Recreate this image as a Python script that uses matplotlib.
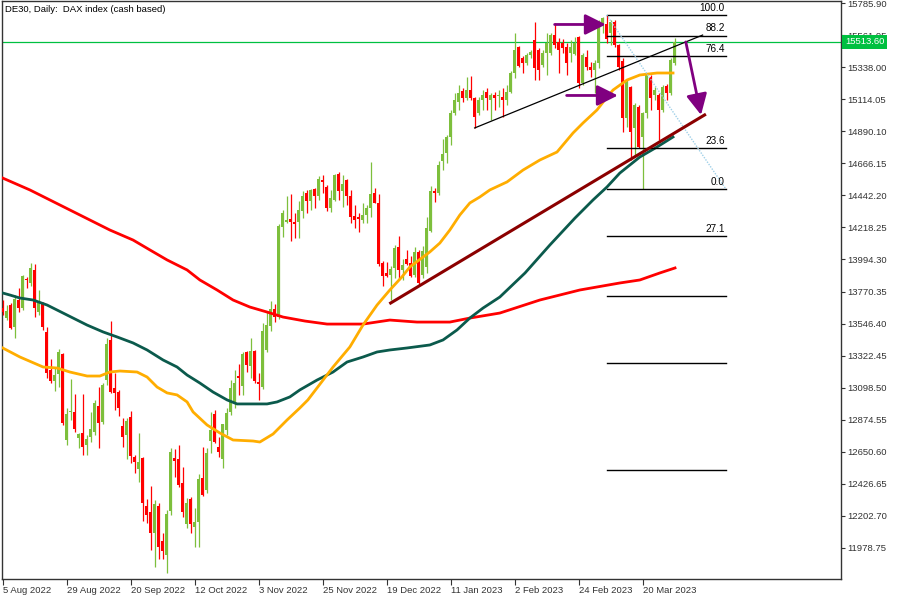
import matplotlib
matplotlib.use("Agg")
import matplotlib.pyplot as plt
import numpy as np

plt.rcParams['font.family'] = ['Liberation Sans', 'DejaVu Sans']

# DE30 daily candles, 5 Aug 2022 .. 30 Mar 2023
opens = [13655, 13585, 13676, 13523, 13711, 13655, 13858, 13830, 13921, 13627,
         13690, 13488, 13222, 13145, 13194, 13334, 12733, 12929, 12929, 12747,
         12782, 12698, 12754, 12789, 12971, 12859, 13152, 13432, 13096, 13068,
         12831, 12768, 12894, 12614, 12531, 12607, 12272, 12230, 12083, 12272,
         12028, 11930, 12237, 12607, 12600, 12433, 12146, 12321, 12125, 12160,
         12468, 12384, 12726, 12915, 12684, 12600, 12803, 12929, 12992, 13180,
         13110, 13348, 13250, 13355, 13138, 13103, 13362, 13530, 13648, 13592,
         14221, 14256, 14277, 14256, 14256, 14333, 14459, 14403, 14487, 14438,
         14550, 14501, 14354, 14410, 14591, 14473, 14550, 14438, 14298, 14291,
         14270, 14305, 14354, 14459, 14389, 13970, 13900, 13886, 13935, 14082,
         13921, 13998, 13970, 13886, 14047, 13886, 13942, 14193, 14473, 14459,
         14682, 14738, 14850, 15018, 15094, 15171, 15122, 15178, 15122, 15018,
         15108, 15164, 15108, 15143, 15136, 15129, 15108, 15164, 15297, 15479,
         15402, 15367, 15423, 15528, 15458, 15353, 15437, 15437, 15562, 15514,
         15507, 15479, 15437, 15430, 15549, 15227, 15409, 15339, 15318, 15367,
         15639, 15639, 15576, 15653, 15493, 15381, 14983, 15199, 14913, 15059,
         14850, 15018, 15269, 15143, 15143, 15039, 15206, 15157, 15367]
highs = [13711, 13676, 13690, 13746, 13795, 13886, 13872, 13970, 13963, 13781,
         13697, 13523, 13299, 13236, 13369, 13341, 12957, 13159, 13054, 12782,
         13054, 12768, 12929, 13013, 13103, 13131, 13446, 13564, 13201, 13082,
         12887, 12887, 12936, 12628, 12782, 12614, 12321, 12412, 12314, 12293,
         12083, 12244, 12677, 12670, 12698, 12545, 12328, 12335, 12258, 12496,
         12684, 12677, 12929, 12943, 12754, 12845, 12957, 13152, 13222, 13264,
         13348, 13355, 13446, 13362, 13201, 13550, 13627, 13704, 13683, 14242,
         14340, 14438, 14452, 14319, 14403, 14473, 14480, 14487, 14494, 14577,
         14584, 14515, 14480, 14591, 14605, 14584, 14557, 14480, 14375, 14319,
         14389, 14375, 14675, 14494, 14452, 13984, 13977, 13949, 14095, 14158,
         13998, 14061, 14019, 14082, 14061, 14089, 14291, 14508, 14494, 14682,
         14836, 14864, 15039, 15157, 15213, 15192, 15269, 15276, 15129, 15129,
         15178, 15192, 15157, 15164, 15178, 15192, 15213, 15311, 15576, 15486,
         15416, 15437, 15458, 15653, 15472, 15458, 15576, 15576, 15646, 15542,
         15535, 15507, 15528, 15549, 15556, 15437, 15458, 15374, 15388, 15667,
         15688, 15702, 15667, 15667, 15500, 15402, 15248, 15206, 15087, 15073,
         15025, 15297, 15283, 15199, 15157, 15213, 15220, 15402, 15542]
lows = [13606, 13571, 13509, 13446, 13627, 13641, 13795, 13809, 13592, 13606,
        13502, 13166, 13131, 13075, 13103, 12838, 12698, 12873, 12789, 12677,
        12628, 12628, 12719, 12768, 12677, 12845, 13117, 13062, 12943, 12901,
        12684, 12600, 12572, 12503, 12440, 12167, 12153, 11965, 11846, 11902,
        11902, 11804, 12209, 12475, 12405, 12195, 12118, 12083, 11986, 11986,
        12342, 12363, 12642, 12712, 12614, 12538, 12768, 12908, 12957, 13048,
        13048, 13208, 13166, 13131, 13013, 13089, 13348, 13495, 13557, 13578,
        14151, 14249, 14123, 14144, 14144, 14284, 14319, 14340, 14354, 14410,
        14459, 14333, 14326, 14403, 14410, 14361, 14375, 14249, 14214, 14186,
        14249, 14249, 14291, 14389, 13949, 13809, 13872, 13711, 13865, 13851,
        13851, 13956, 13872, 13872, 13816, 13865, 13900, 14186, 14396, 14445,
        14619, 14668, 14794, 15004, 15039, 15094, 15108, 15108, 14913, 15004,
        15039, 15039, 14969, 15039, 15060, 14990, 15073, 15157, 15262, 15339,
        15297, 15353, 15402, 15248, 15248, 15339, 15283, 15423, 15472, 15297,
        15437, 15283, 15374, 15423, 15192, 15213, 15318, 15269, 15157, 15332,
        15576, 15507, 15493, 15479, 15318, 14885, 14920, 14689, 14710, 14773,
        14487, 14983, 15039, 15108, 14829, 15025, 15108, 15143, 15353]
closes = [13627, 13634, 13516, 13718, 13655, 13879, 13851, 13935, 13655, 13690,
          13523, 13201, 13145, 13187, 13348, 12852, 12915, 12936, 12810, 12775,
          12684, 12740, 12810, 12992, 12852, 13117, 13404, 13068, 13062, 12957,
          12754, 12866, 12621, 12579, 12579, 12293, 12209, 12083, 12286, 11986,
          11958, 12216, 12649, 12586, 12419, 12230, 12293, 12146, 12160, 12461,
          12349, 12642, 12803, 12719, 12649, 12845, 12922, 13096, 13131, 13166,
          13334, 13257, 13355, 13145, 13124, 13495, 13536, 13648, 13592, 14228,
          14319, 14270, 14256, 14242, 14340, 14438, 14403, 14480, 14438, 14557,
          14536, 14354, 14424, 14584, 14473, 14522, 14438, 14291, 14270, 14277,
          14305, 14354, 14452, 14389, 13963, 13879, 13879, 13928, 14075, 13921,
          13956, 13963, 13879, 14047, 13830, 14054, 14214, 14473, 14459, 14654,
          14731, 14850, 15018, 15108, 15157, 15122, 15178, 15122, 14990, 15108,
          15143, 15122, 15143, 15122, 15143, 15108, 15164, 15297, 15458, 15346,
          15367, 15423, 15444, 15332, 15318, 15437, 15507, 15562, 15493, 15458,
          15472, 15367, 15479, 15507, 15227, 15423, 15339, 15318, 15367, 15632,
          15681, 15535, 15653, 15493, 15339, 14983, 15234, 14885, 15073, 14780,
          15018, 15283, 15122, 15178, 15039, 15199, 15157, 15388, 15513.6]

# moving averages as drawn on the chart (bar index, price)
ma_fast_bars = [0, 4.3, 10.1, 13.6, 16.8, 21.1, 24.3, 26.8, 29.3, 33.6, 36.1, 38.6, 41.1,
                43.6, 46.1, 47.6, 51.1, 54.3, 57.6, 62.6, 64.3, 67.6, 71.1, 74.3, 76.3,
                82.6, 86.8, 90.1, 93.6, 96.8, 99.8, 101.8, 106.8, 109.3, 111.8, 114.3,
                116.8, 119.3, 121.8, 126.1, 130.1, 134.3, 138.6, 142.6, 145.1, 148.6,
                151.1, 152.6, 156.1, 159.3, 163.6, 167.6]
ma_fast = [13376, 13313, 13243, 13236, 13208, 13180, 13180, 13208, 13215, 13208, 13173,
           13103, 13062, 13048, 12999, 12929, 12838, 12782, 12733, 12726, 12719, 12775,
           12873, 12957, 13013, 13243, 13383, 13537, 13676, 13781, 13872, 13942, 14047,
           14109, 14200, 14305, 14389, 14431, 14480, 14536, 14619, 14689, 14745, 14878,
           14948, 15039, 15129, 15178, 15248, 15283, 15297, 15297]
ma_mid_bars = [0, 1.8, 4.3, 7.6, 11.1, 13.6, 17.6, 21.1, 25.1, 28.6, 32.6, 36.1, 40.1,
               43.6, 46.1, 49.3, 52.6, 56.1, 58.6, 66.1, 68.6, 71.8, 74.3, 78.6, 82.6,
               86.1, 90.1, 93.6, 96.8, 101.1, 106.8, 110.1, 113.6, 116.8, 120.1, 124.3,
               130.6, 136.8, 143.1, 147.6, 151.1, 154.3, 159.3, 163.6, 167.6]
ma_mid = [13760, 13746, 13725, 13711, 13676, 13641, 13585, 13536, 13488, 13453, 13411,
          13362, 13292, 13243, 13187, 13131, 13068, 13013, 12985, 12985, 12999, 13034,
          13083, 13152, 13208, 13278, 13313, 13348, 13362, 13376, 13397, 13432, 13502,
          13585, 13655, 13732, 13900, 14095, 14284, 14410, 14501, 14598, 14710, 14780,
          14850]
ma_slow_bars = [0, 6.8, 14.3, 21.8, 26.8, 32.6, 36.8, 41.1, 46.1, 49.3, 53.6, 57.6, 61.8,
                66.1, 70.1, 75.6, 81.1, 90.1, 96.8, 103.6, 111.8, 116.8, 124.3, 134.3,
                144.3, 154.3, 159.3, 164.3, 168.1]
ma_slow = [14563, 14480, 14375, 14270, 14200, 14130, 14061, 13991, 13921, 13851, 13781,
           13711, 13662, 13627, 13592, 13564, 13543, 13543, 13571, 13557, 13557, 13585,
           13620, 13711, 13781, 13830, 13851, 13900, 13935]

# fibonacci: 100 at the early-March high, 0 at the 20 Mar low
fib_high = 15702
fib_low = 14487
fib_levels = [1.0, 0.882, 0.764, 0.236, 0.0, -0.271, -0.618, -1.0, -1.618]
fib_labels = ["100.0", "88.2", "76.4", "23.6", "0.0", "27.1", "", "", ""]

last_price = 15513.6
ytick_vals = [11978.75 + 223.95 * k for k in range(18)]
xtick_bars = [0, 16, 32, 48, 64, 80, 96, 112, 128, 144, 160]
xtick_labels = ["5 Aug 2022", "29 Aug 2022", "20 Sep 2022", "12 Oct 2022", "3 Nov 2022",
                "25 Nov 2022", "19 Dec 2022", "11 Jan 2023", "2 Feb 2023", "24 Feb 2023",
                "20 Mar 2023"]

bull = "#7dbf3c"
bear = "#ff0000"
purple = "#800080"
fs = 6.8

fig = plt.figure(figsize=(9, 6), dpi=100)
ax = fig.add_axes([2 / 900, 21 / 600, 839 / 900, 578 / 600])

o = np.array(opens, dtype=float)
h = np.array(highs, dtype=float)
l = np.array(lows, dtype=float)
c = np.array(closes, dtype=float)
x = np.arange(len(c))
up = c >= o
cols = np.where(up, bull, bear)

# wicks then bodies
ax.vlines(x, l, h, colors=cols, linewidth=0.9, zorder=3)
body_lo = np.minimum(o, c)
body_h = np.maximum(np.abs(c - o), 6)
ax.bar(x, body_h, bottom=body_lo, width=0.72, color=cols, linewidth=0, zorder=4)

# moving averages
ax.plot(ma_slow_bars, ma_slow, color="#ff0000", lw=2.0, zorder=5)
ax.plot(ma_mid_bars, ma_mid, color="#0b5a4c", lw=2.0, zorder=5)
ax.plot(ma_fast_bars, ma_fast, color="#ffad00", lw=2.0, zorder=5)

# current price line
ax.axhline(last_price, color="#00c040", lw=0.9, zorder=2)

# fibonacci grid
f0, f1 = 151, 180.8
for lvl, lab in zip(fib_levels, fib_labels):
    p = fib_low + lvl * (fib_high - fib_low)
    ax.plot([f0, f1], [p, p], color="black", lw=1.0, zorder=6)
    if lab:
        ax.annotate(lab, (f1 - 0.3, p), xytext=(0, 1.5), textcoords="offset points",
                    ha="right", va="bottom", fontsize=fs + 0.4, color="black", zorder=7)
ax.plot([f0, f1], [fib_high, fib_low], color="#9fd0e8", lw=1.0, ls=(0, (1, 1)), zorder=6)

# trendlines
ax.plot([118, 175], [14913, 15562], color="black", lw=0.9, zorder=6)
ax.plot([97, 175.5], [13690, 15004], color="#8b0000", lw=2.2, zorder=6)

# arrows
arr = dict(arrowstyle="-|>,head_length=0.9,head_width=0.45", color=purple, lw=2.0,
           shrinkA=0, shrinkB=0, mutation_scale=14)
ax.annotate("", xy=(150.8, 15636), xytext=(138, 15636), arrowprops=arr, zorder=8)
ax.annotate("", xy=(153.8, 15140), xytext=(141, 15140), arrowprops=arr, zorder=8)
ax.annotate("", xy=(174.6, 15004), xytext=(170.8, 15514), arrowprops=arr, zorder=8)

ax.set_xlim(-0.175, 209.6)
ax.set_ylim(11762, 15800)

ax.yaxis.tick_right()
ax.set_yticks(ytick_vals)
ax.set_yticklabels(["%.2f" % v for v in ytick_vals])
ax.tick_params(axis="y", direction="out", length=3, width=0.8, pad=1.5,
               labelsize=fs, colors="#333333")
ax.set_xticks(xtick_bars)
ax.set_xticklabels(xtick_labels, ha="left")
ax.tick_params(axis="x", direction="out", length=4, width=0.8, pad=1,
               labelsize=fs, colors="#333333")
for sp in ax.spines.values():
    sp.set_color("#333333")
    sp.set_linewidth(1.0)

ax.text(1.0 + 4 / 839, last_price, "15513.60", transform=ax.get_yaxis_transform(),
        ha="left", va="center", fontsize=fs, color="white", zorder=10,
        bbox=dict(boxstyle="square,pad=0.3", fc="#00c040", ec="none"), clip_on=False)

ax.text(3 / 839, 1 - 9 / 578, "DE30, Daily:  DAX index (cash based)", transform=ax.transAxes,
        ha="left", va="center", fontsize=fs, color="black")

fig.savefig("out.png", dpi=100)
